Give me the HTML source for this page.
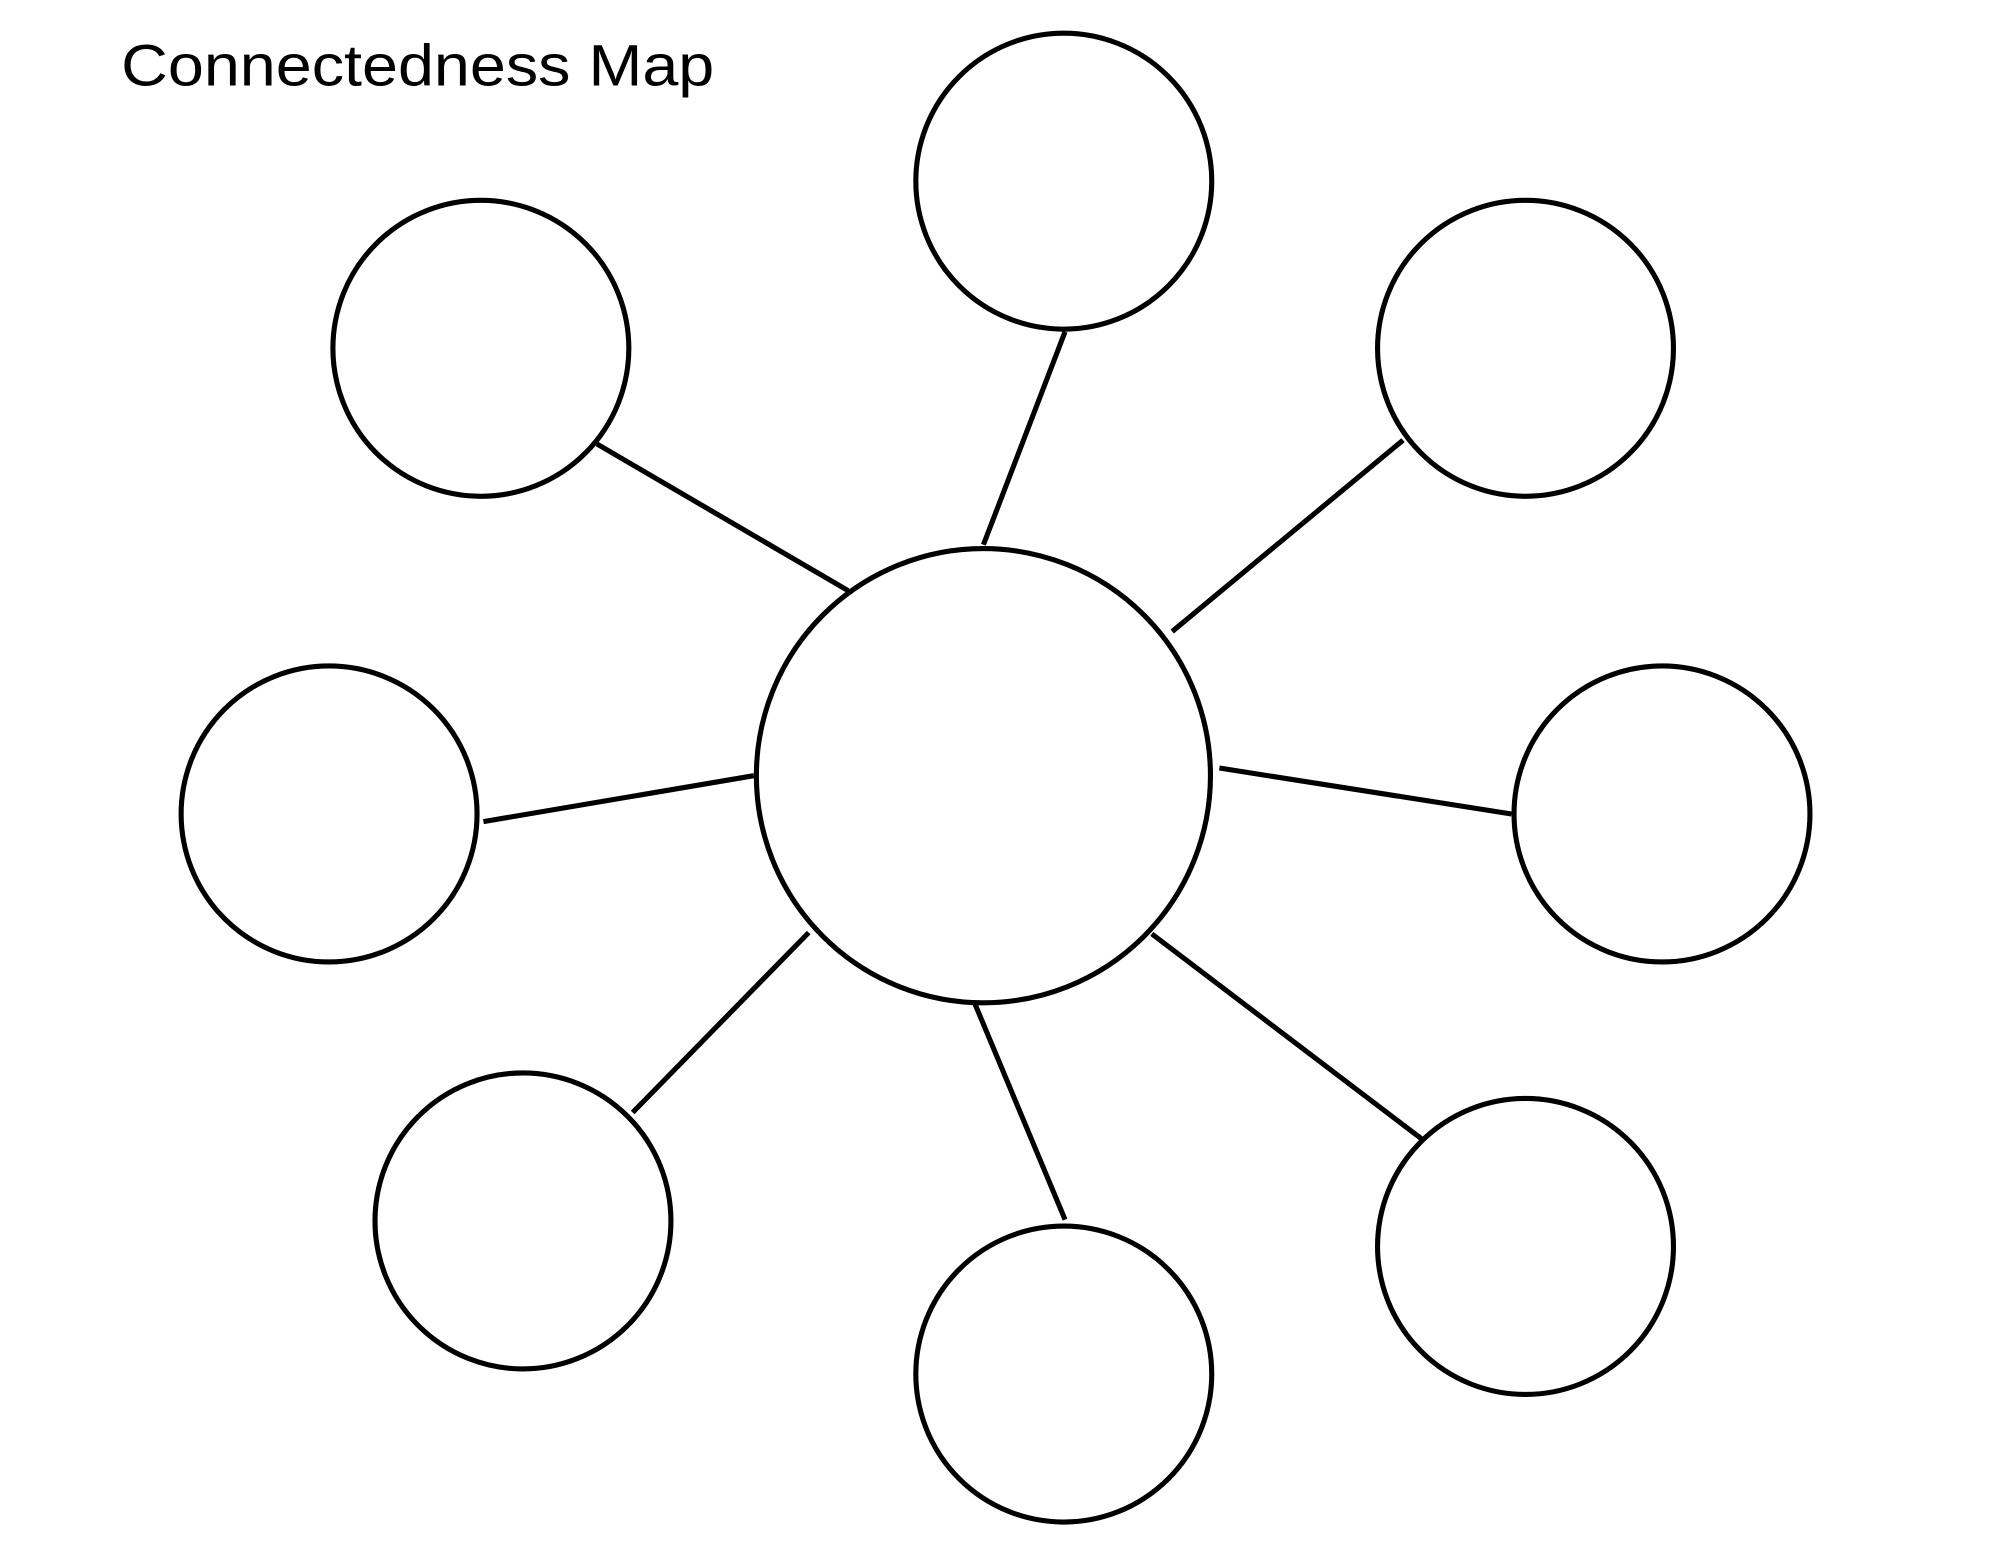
<!DOCTYPE html>
<html><head><meta charset="utf-8"><style>html,body{margin:0;padding:0;background:#fff}svg{display:block}</style></head>
<body>
<svg width="2000" height="1545" viewBox="0 0 1568 1211" preserveAspectRatio="none" xmlns="http://www.w3.org/2000/svg">
<rect width="1568" height="1211" fill="#fff"/>
<text x="95" y="67" font-family="Liberation Sans, sans-serif" font-size="46" fill="#000" textLength="465" lengthAdjust="spacingAndGlyphs">Connectedness Map</text>
<g fill="none" stroke="#000" stroke-width="4">
<circle cx="771" cy="608" r="178"/>
<circle cx="834" cy="142" r="116"/>
<circle cx="377" cy="273" r="116"/>
<circle cx="1196" cy="273" r="116"/>
<circle cx="258" cy="638" r="116"/>
<circle cx="1303" cy="638" r="116"/>
<circle cx="410" cy="957" r="116"/>
<circle cx="834" cy="1077" r="116"/>
<circle cx="1196" cy="977" r="116"/>
<line x1="771" y1="427" x2="835" y2="260"/>
<line x1="468" y1="348" x2="665" y2="463"/>
<line x1="919" y1="495" x2="1100" y2="345"/>
<line x1="379" y1="644" x2="591" y2="608"/>
<line x1="956" y1="602" x2="1185" y2="638"/>
<line x1="634" y1="731" x2="496" y2="872"/>
<line x1="764" y1="786" x2="835" y2="956"/>
<line x1="903" y1="732" x2="1115" y2="893"/>
</g>
</svg>
</body></html>
